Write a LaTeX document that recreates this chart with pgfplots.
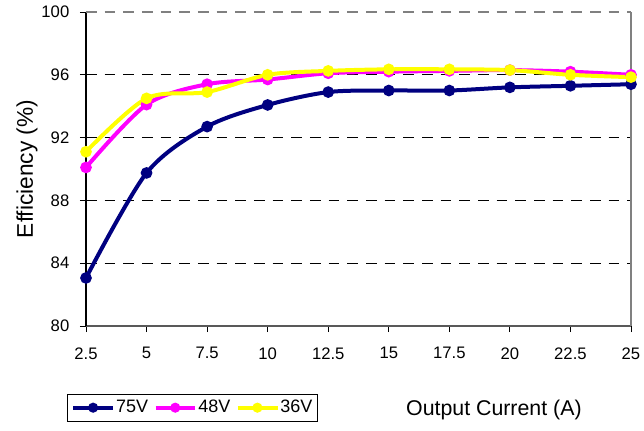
\documentclass[border=0pt]{standalone}
\usepackage{pgfplots}
\pgfplotsset{compat=1.18}
\usepackage{fontspec}
\setmainfont{Liberation Sans}
\definecolor{navyc}{RGB}{0,0,128}
\definecolor{magc}{RGB}{255,0,255}
\definecolor{yelc}{RGB}{255,255,0}
\begin{document}
\begin{tikzpicture}
\useasboundingbox (-64.5pt,-78pt) rectangle (418.5pt,244.5pt);
\begin{axis}[
  at={(0,0)}, anchor=south west,
  scale only axis, width=408.75pt, height=235.5pt,
  xmin=2.5, xmax=25, ymin=80, ymax=100,
  xtick={2.5,5,...,25}, ytick={80,84,...,100},
  xticklabels={2.5,5,7.5,10,12.5,15,17.5,20,22.5,25},
  /pgf/number format/assume math mode=true,
  axis x line=bottom, axis y line=left,
  axis line style={-, line width=0.9pt},
  x axis line style={black!65},
  y axis line style={black},
  tick align=outside, tick style={black, line width=0.7pt},
  major tick length=4.5pt,
  extra y ticks={84,88,92,96},
  extra y tick labels={},
  extra y tick style={grid=major, major tick length=0pt},
  major grid style={black, dash pattern=on 8pt off 6pt, line width=0.6pt},
  ticklabel style={font=\fontsize{12.5}{14}\selectfont},
  xticklabel style={yshift=-8pt},
  yticklabel style={xshift=-4.5pt},
  ylabel={Efficiency (\%)},
  ylabel style={font=\fontsize{17}{19}\selectfont, at={(axis description cs:-0.108,0.5)}, anchor=center},
  xlabel={Output Current (A)},
  xlabel style={font=\fontsize{16}{18}\selectfont, at={(axis cs:19.34,80)}, anchor=center, yshift=-63pt},
  legend style={at={(-14.25pt,-51pt)}, anchor=north west, legend columns=3,
    draw=black, line width=0.6pt, font=\fontsize{13.5}{15}\selectfont,
    inner ysep=2.5pt, inner xsep=3pt, nodes={inner xsep=1pt, inner ysep=2pt},
    /tikz/every even column/.append style={column sep=3pt},
    /tikz/every odd column/.append style={column sep=0pt}},
  legend image code/.code={\draw[mark repeat=2,mark phase=2,mark size=2.2pt] plot coordinates {(0cm,0cm) (0.52cm,0cm) (1.04cm,0cm)};},
  every axis plot/.append style={line width=3pt, smooth, mark=*, mark size=2.8pt, mark options={solid, line width=0.5pt}},
  clip=false,
]
\addplot[color=navyc, mark options={fill=navyc, draw=navyc}] coordinates {
(2.5,83.06) (5,89.75) (7.5,92.7) (10,94.08) (12.5,94.9) (15,95.0) (17.5,95.0) (20,95.2) (22.5,95.3) (25,95.4)};
\addlegendentry{75V}
\addplot[color=magc, mark options={fill=magc, draw=magc}] coordinates {
(2.5,90.1) (5,94.1) (7.5,95.4) (10,95.7) (12.5,96.1) (15,96.2) (17.5,96.25) (20,96.3) (22.5,96.2) (25,96.0)};
\addlegendentry{48V}
\addplot[color=yelc, mark options={fill=yelc, draw=yelc}] coordinates {
(2.5,91.1) (5,94.5) (7.5,94.9) (10,96.0) (12.5,96.25) (15,96.35) (17.5,96.35) (20,96.3) (22.5,96.0) (25,95.85)};
\addlegendentry{36V}
\draw[black!50, line width=0.9pt] (rel axis cs:1,0) -- (rel axis cs:1,1);
\draw[black!50, line width=0.9pt, dash pattern=on 8pt off 6pt] (rel axis cs:0,1) -- (rel axis cs:1,1);
\end{axis}
\end{tikzpicture}
\end{document}
